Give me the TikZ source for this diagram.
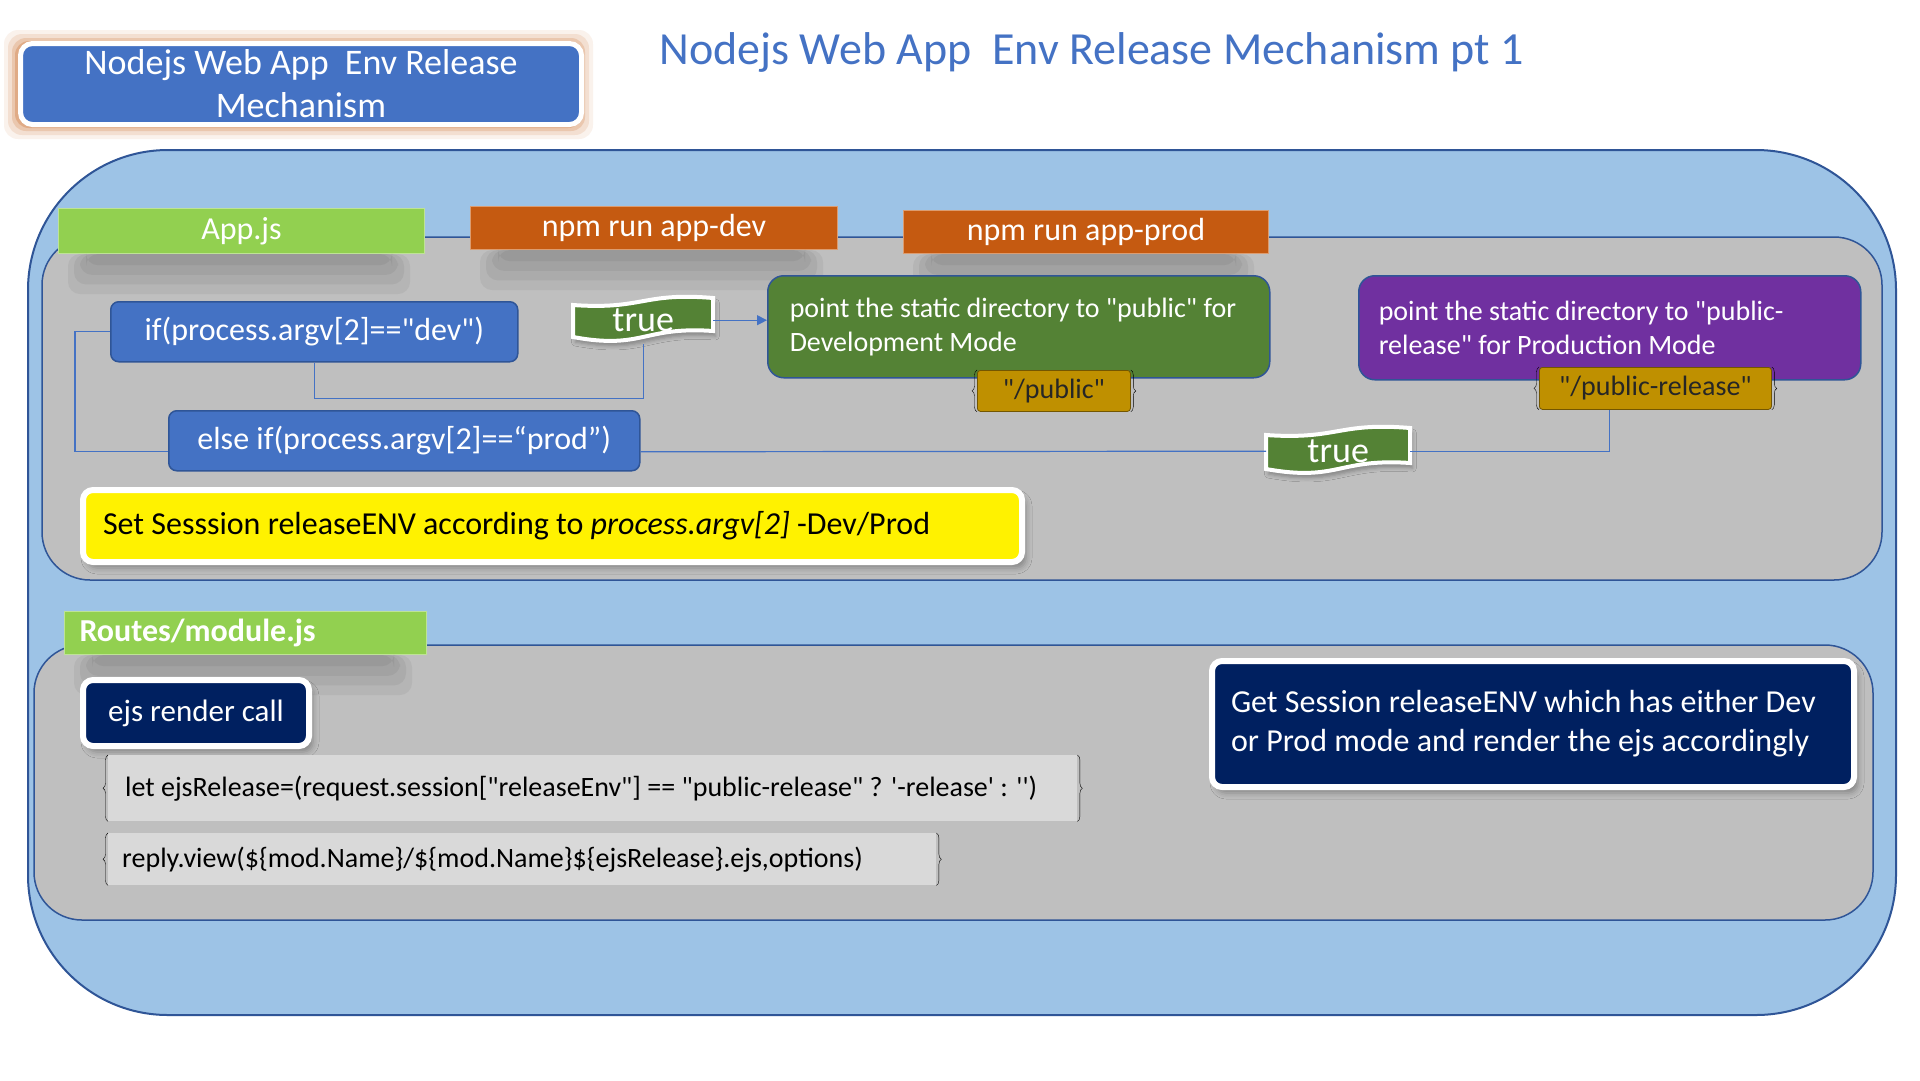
\documentclass[tikz,border=0pt]{standalone}
\usepackage{fontspec}
\setmainfont{Carlito}[Ligatures=TeXOff]
\usetikzlibrary{arrows.meta,shadows.blur,decorations.pathreplacing}
\definecolor{skyfill}{HTML}{9DC3E6}
\definecolor{edgeblue}{HTML}{2F5597}
\definecolor{panelgray}{HTML}{BFBFBF}
\definecolor{ifblue}{HTML}{4472C4}
\definecolor{tabgreen}{HTML}{92D050}
\definecolor{taborange}{HTML}{C55A11}
\definecolor{devgreen}{HTML}{548235}
\definecolor{prodpurple}{HTML}{7030A0}
\definecolor{tagbrown}{HTML}{BF9000}
\definecolor{navy}{HTML}{002060}
\definecolor{codegray}{HTML}{D9D9D9}
\definecolor{glow}{HTML}{C55A11}
% wave shaped banner behind a "true" label: x, y, width, height
\newcommand{\wavebanner}[4]{%
  \draw[white, line width=4pt, fill=devgreen,
    blur shadow={shadow yshift=-5pt, shadow blur radius=4pt, shadow opacity=30}]
    (#1,#2+9) .. controls (#1+0.5*#3,#2+14) and (#1+0.5*#3,#2-4) .. (#1+#3,#2+2)
    -- (#1+#3,#2+#4-13) .. controls (#1+0.5*#3,#2+#4-18) and (#1+0.5*#3,#2+#4+6) .. (#1,#2+#4-7) -- cycle;}
\tikzset{
  box/.style={anchor=north west, inner sep=0pt, text=white},
  panel/.style={draw=edgeblue, line width=1.5pt, fill=panelgray, rounded corners=48pt},
  tab/.style={box, fill=#1, draw=#1!60!white, line width=1pt, font=\fontsize{32}{38}\selectfont},
  cond/.style={box, fill=ifblue, draw=edgeblue, line width=1.5pt, rounded corners=8pt, font=\fontsize{32}{38}\selectfont},
  mode/.style={box, draw=edgeblue, line width=1.5pt, rounded corners=16pt, align=flush left, font=\fontsize{28}{34}\selectfont},
  tag/.style={box, fill=tagbrown, draw=tagbrown!60!black, line width=0.8pt, rounded corners=3pt, text=black!85, font=\fontsize{28}{33}\selectfont},
  flag/.style={box, font=\fontsize{36}{42}\selectfont},
  callout/.style={box, draw=white, line width=6pt, rounded corners=10pt, font=\fontsize{31}{38}\selectfont,
    blur shadow={shadow xshift=4pt, shadow yshift=-6pt, shadow blur radius=6pt, shadow opacity=30}},
  code/.style={box, fill=codegray, text=black, align=flush left, font=\fontsize{28}{33}\selectfont},
  link/.style={draw=ifblue, line width=1.2pt}
}
\begin{document}
\begin{tikzpicture}[x=1pt, y=-1pt]
\useasboundingbox (0,0) rectangle (1920,1080);
\fill[white] (0,0) rectangle (1920,1080);
\draw[edgeblue, line width=2pt, fill=skyfill, rounded corners=140pt] (28,150) rectangle (1896,1015);
\draw[panel] (42,237) rectangle (1882,580);
\draw[panel] (34,645) rectangle (1873,920);

% header
\foreach \g/\o in {14/0.08, 10/0.12, 6/0.18, 3/0.25}
  \fill[glow, opacity=\o, rounded corners=14pt] (18-\g,41-\g+3) rectangle (579+\g,122+\g+3);
\node[box, fill=ifblue, draw=white, line width=5pt, rounded corners=12pt, minimum width=561pt, minimum height=81pt,
  align=center, font=\fontsize{36}{43}\selectfont] (titlebox) at (18,41) {Nodejs Web App\ \ Env Release\\Mechanism};
\node[anchor=base west, text=ifblue, font=\fontsize{46}{55}\selectfont] (pagetitle) at (656,64) {Nodejs Web App\ \ Env Release Mechanism pt 1};

% tabs
\node[tab=tabgreen, minimum width=366pt, minimum height=45pt] (appjs) at (58,208) {App.js};
\node[tab=taborange, minimum width=367pt, minimum height=43pt] (npmdev) at (470,206) {npm run app-dev};
\node[tab=taborange, minimum width=365pt, minimum height=43pt] (npmprod) at (903,210) {npm run app-prod};
\node[tab=tabgreen, minimum height=43pt, text width=332pt, inner xsep=15pt, align=flush left,
  font=\bfseries\fontsize{32}{38}\selectfont] (routes) at (64,611) {Routes/module.js};
% soft shadow under the tabs
\foreach \t in {appjs,npmdev,npmprod,routes}
  \foreach \g in {0,6,12,18}
    \fill[black, opacity=0.05, rounded corners=12pt] ([xshift=10pt+\g pt]\t.south west)
      rectangle ([xshift=-15pt-\g pt, yshift=-40pt+1.6*\g pt]\t.south east);

% App.js part
\wavebanner{573}{296}{140}{48}
\wavebanner{1266}{426}{144}{50}
\node[cond, minimum width=407pt, minimum height=60pt] (ifdev) at (110,301) {if(process.argv[2]=="dev")};
\node[cond, minimum width=471pt, minimum height=60pt] (elseprod) at (168,410) {else if(process.argv[2]==“prod”)};
\node[flag, minimum width=140pt, minimum height=48pt] (flag1) at (573,296) {true};
\node[flag, minimum width=144pt, minimum height=50pt] (flag2) at (1266,426) {true};
\node[mode, fill=devgreen, minimum height=102pt, text width=458pt, inner xsep=22pt] (devmode) at (767,275)
  {point the static directory to "public" for\\Development Mode};
\node[mode, fill=prodpurple, minimum height=104pt, text width=462pt, inner xsep=20pt] (prodmode) at (1358,275)
  {point the static directory to "public-\\release" for Production Mode};
\node[tag, minimum width=153pt, minimum height=41pt] (publictag) at (977,370) {"/public"};
\node[tag, minimum width=232pt, minimum height=42pt] (releasetag) at (1539,367) {"/public-release"};
\node[callout, fill=yellow, text=black, minimum height=72pt, text width=899pt, inner xsep=20pt, align=flush left,
  font=\fontsize{32}{38}\selectfont] (setsession) at (80,487)
  {Set Sesssion releaseENV according to \textit{process.argv[2]} -Dev/Prod};

% Routes part
\node[callout, fill=navy, minimum width=226pt, minimum height=66pt] (ejscall) at (80,677) {ejs render call};
\node[callout, fill=navy, minimum height=126pt, text width=604pt, inner xsep=19pt, align=flush left,
  font=\fontsize{32}{39}\selectfont] (getsession) at (1209,658)
  {Get Session releaseENV which has either Dev\\or Prod mode and render the ejs accordingly};
\node[code, minimum height=66pt, text width=935pt, inner xsep=17pt] (letrel) at (108,755)
  {let ejsRelease=(request.session["releaseEnv"] == "public-release" ? '-release' : '')};
\node[code, minimum height=52pt, text width=800pt, inner xsep=14pt] (replyview) at (108,833)
  {reply.view(\$\{mod.Name\}/\$\{mod.Name\}\$\{ejsRelease\}.ejs,options)};

\foreach \c in {letrel,replyview,publictag,releasetag}{
  \draw[decorate, decoration={brace, amplitude=5pt}] (\c.south west) -- (\c.north west);
  \draw[decorate, decoration={brace, amplitude=5pt}] (\c.north east) -- (\c.south east);
}

% connectors
\path[link] (ifdev.south) -- ++(0,36) -| (flag1.south);
\path[link] (ifdev.west) -- ++(-35,0) |- ([yshift=-11pt]elseprod.west);
\path[link] ([yshift=-11pt]elseprod.east) -- (flag2.west);
\path[link] (flag2.east) -| ([xshift=-46pt]releasetag.south);
\path[link, -{Triangle[length=10pt, width=10pt]}] (flag1.east) -- (flag1.east -| devmode.west);
\end{tikzpicture}
\end{document}
